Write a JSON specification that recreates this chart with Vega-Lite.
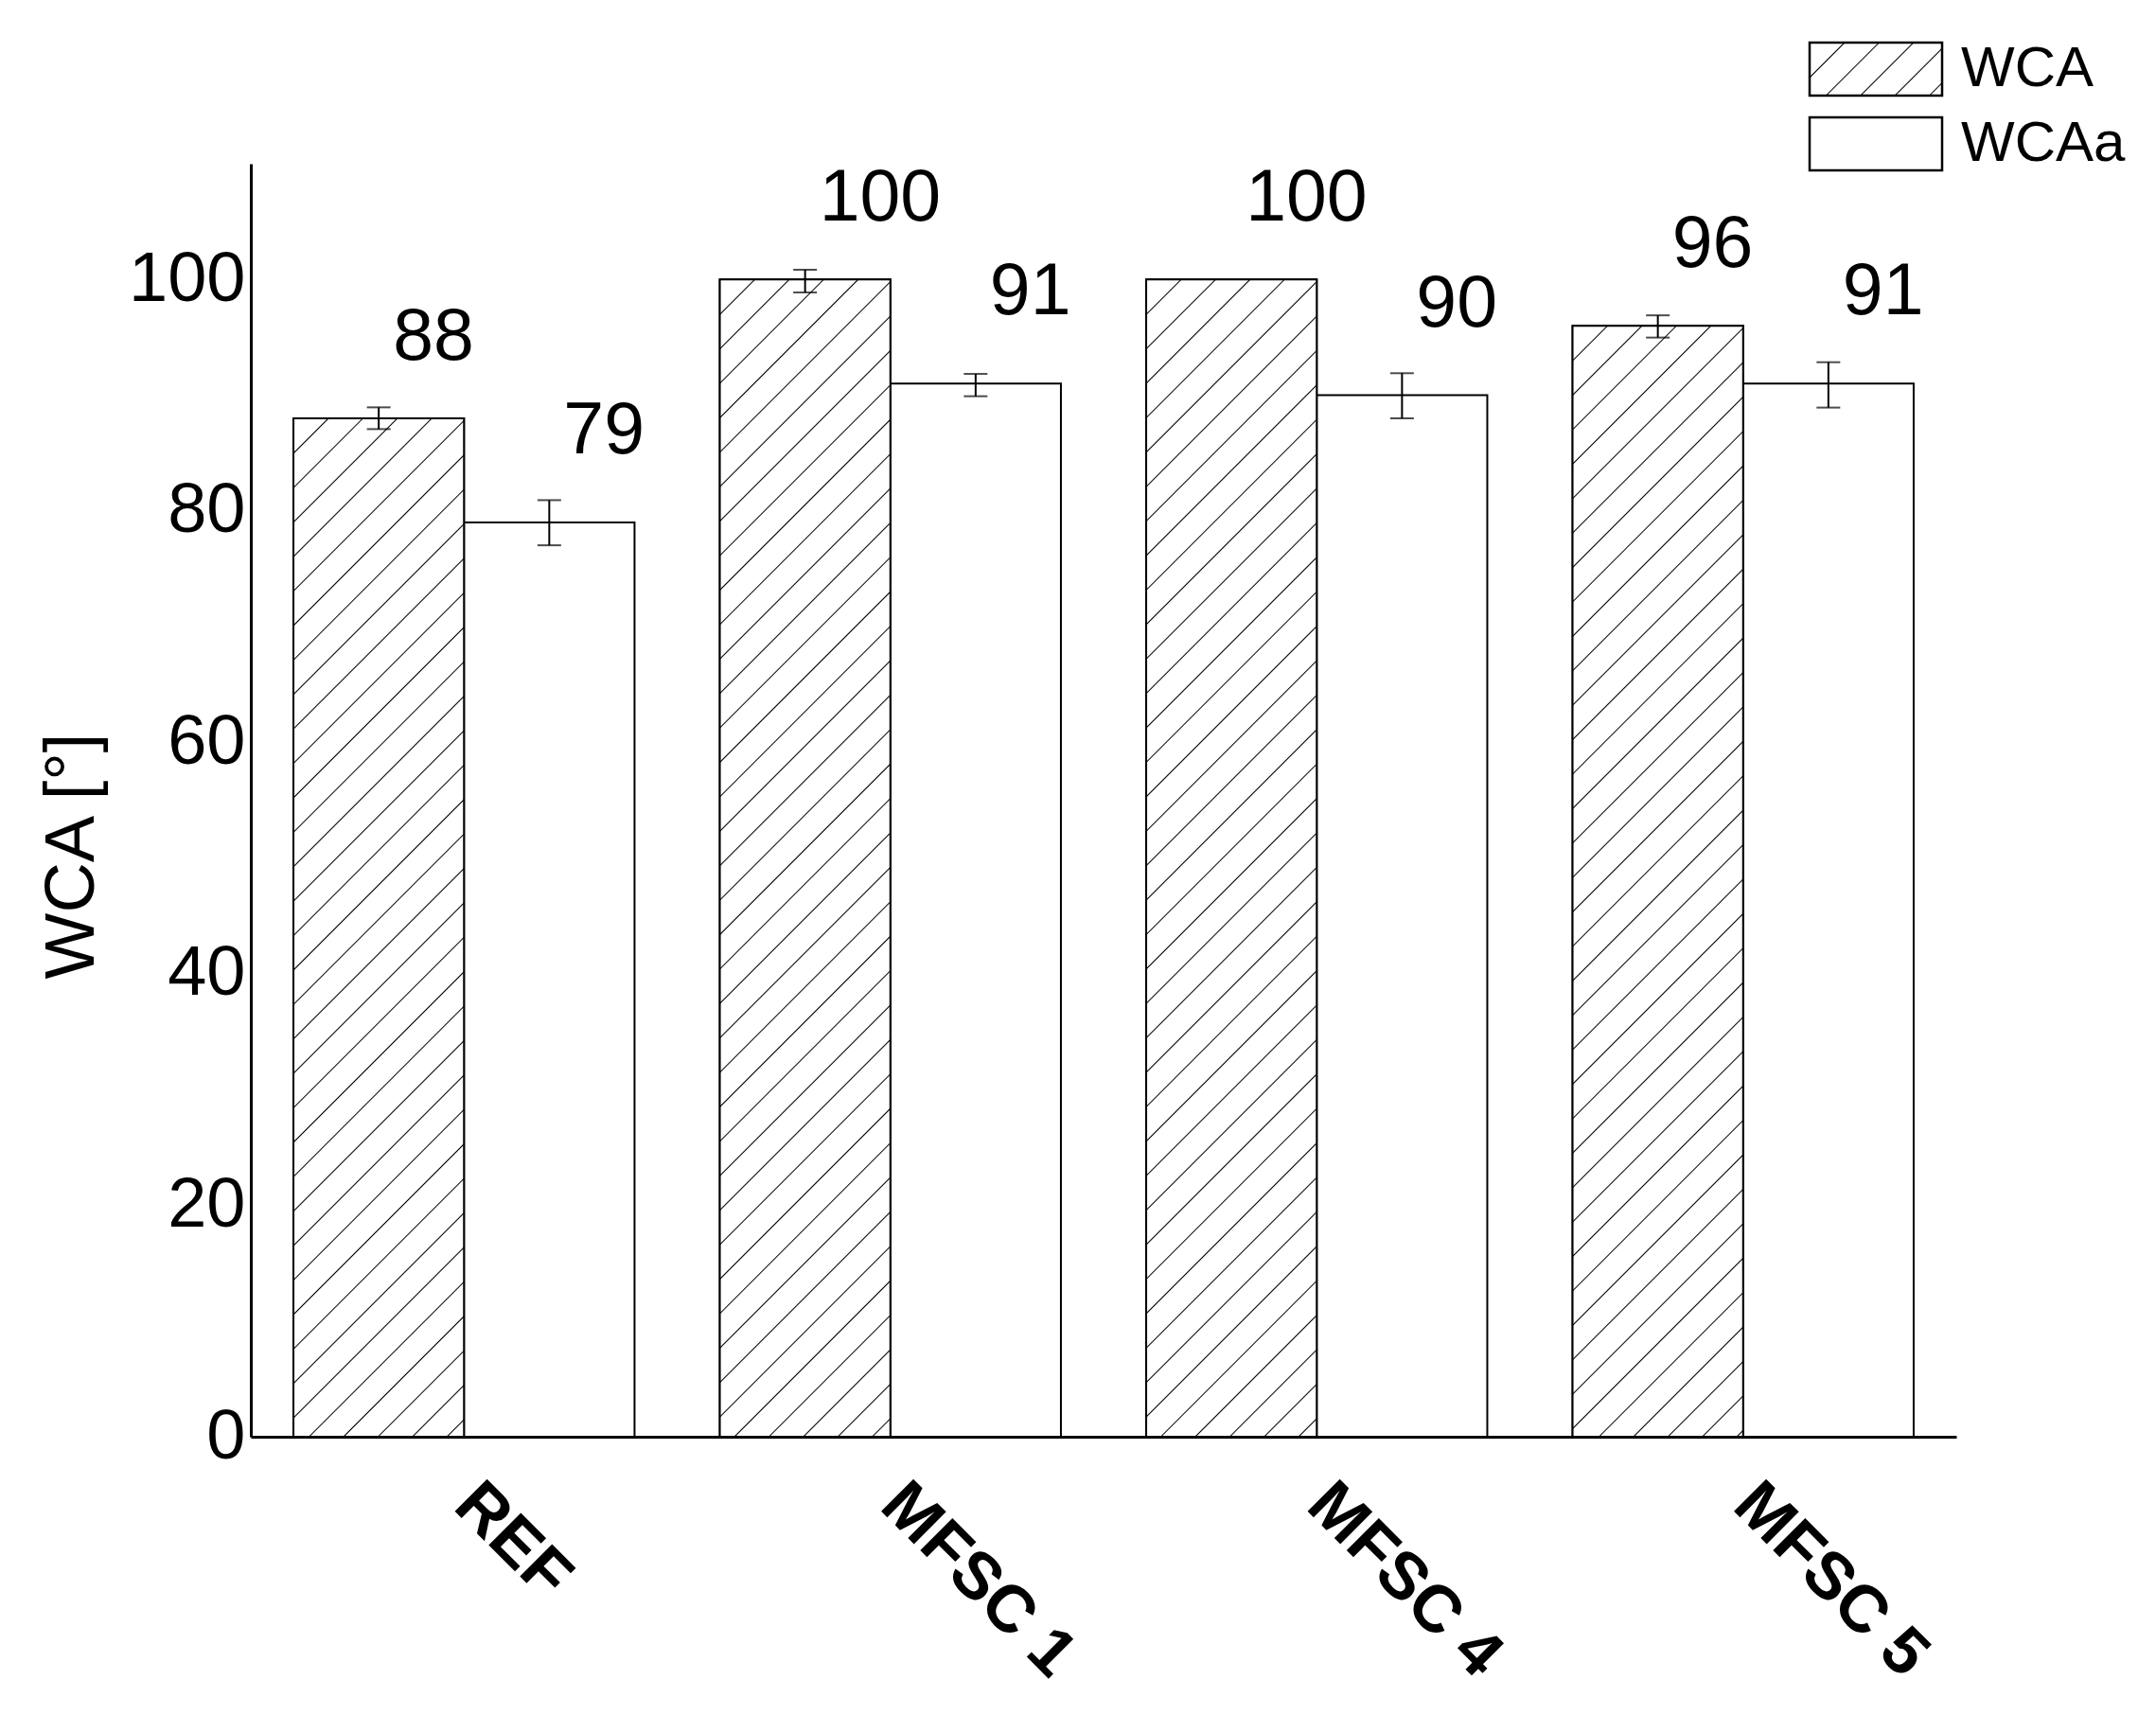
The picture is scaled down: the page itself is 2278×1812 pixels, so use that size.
{
 "$schema": "https://vega.github.io/schema/vega-lite/v6.json",
 "width": 1802, "height": 1345,
 "autosize": {"type": "none"},
 "padding": {"left": 265, "top": 173, "right": 211, "bottom": 294},
 "background": "white",
 "config": {"view": {"stroke": null}},
 "params": [
  {"name": "legendHatch", "value": {"gradient": "linear", "x1": 0, "y1": 0, "x2": 8.9655, "y2": 3.5862, "stops": [
   {"offset": 0, "color": "#fff"},
   {"offset": 0.0244, "color": "#fff"}, {"offset": 0.0254, "color": "#000"}, {"offset": 0.0264, "color": "#fff"},
   {"offset": 0.0494, "color": "#fff"}, {"offset": 0.0504, "color": "#000"}, {"offset": 0.0514, "color": "#fff"},
   {"offset": 0.0744, "color": "#fff"}, {"offset": 0.0754, "color": "#000"}, {"offset": 0.0764, "color": "#fff"},
   {"offset": 0.0994, "color": "#fff"}, {"offset": 0.1004, "color": "#000"}, {"offset": 0.1014, "color": "#fff"},
   {"offset": 0.1244, "color": "#fff"}, {"offset": 0.1254, "color": "#000"}, {"offset": 0.1264, "color": "#fff"},
   {"offset": 0.1494, "color": "#fff"}, {"offset": 0.1504, "color": "#000"}, {"offset": 0.1514, "color": "#fff"},
   {"offset": 1, "color": "#fff"}]}}
 ],
 "data": {"values": [
  {"sample": "REF", "series": "WCA", "value": 88, "lo": 87.07, "hi": 88.95},
  {"sample": "REF", "series": "WCAa", "value": 79, "lo": 77.03, "hi": 80.93},
  {"sample": "MFSC 1", "series": "WCA", "value": 100, "lo": 98.88, "hi": 100.84},
  {"sample": "MFSC 1", "series": "WCAa", "value": 91, "lo": 89.91, "hi": 91.84},
  {"sample": "MFSC 4", "series": "WCA", "value": 100, "lo": null, "hi": null},
  {"sample": "MFSC 4", "series": "WCAa", "value": 90, "lo": 88.0, "hi": 91.9},
  {"sample": "MFSC 5", "series": "WCA", "value": 96, "lo": 94.98, "hi": 96.9},
  {"sample": "MFSC 5", "series": "WCAa", "value": 91, "lo": 88.93, "hi": 92.85}
 ]},
 "encoding": {
  "x": {"field": "sample", "type": "nominal", "sort": null,
   "scale": {"paddingInner": 0.2, "paddingOuter": 0.1},
   "axis": {"title": null, "labelAngle": 45, "labelAlign": "left", "labelBaseline": "alphabetic",
    "labelPadding": 75, "labelOffset": -13, "labelFontSize": 70, "labelFontWeight": "bold",
    "labelFont": "Liberation Sans", "labelColor": "black", "ticks": false, "tickSize": 0,
    "domainColor": "black", "domainWidth": 3, "grid": false, "labelOverlap": false, "labelBound": false, "labelLimit": 1000}},
  "xOffset": {"field": "series", "type": "nominal", "scale": {"paddingInner": 0, "paddingOuter": 0}},
  "y": {"field": "value", "type": "quantitative", "scale": {"domain": [0, 110], "nice": false},
   "axis": {"title": "WCA [°]", "values": [0, 20, 40, 60, 80, 100], "ticks": false, "tickSize": 0,
    "labelPadding": 6, "labelFontSize": 74, "labelFont": "Liberation Sans", "labelColor": "black",
    "domainColor": "black", "domainWidth": 3, "grid": false, "labelOverlap": false,
    "titleFontSize": 74, "titleFont": "Liberation Sans", "titleFontWeight": "normal", "titleColor": "black",
    "titleAngle": -90, "titleX": -167, "titleY": 731, "titleAlign": "center", "titleBaseline": "alphabetic"}}
 },
 "layer": [
  {"mark": {"type": "bar", "fill": "white", "strokeWidth": 2},
   "encoding": {"stroke": {"field": "series", "type": "nominal", "scale": {"range": ["black", "black"]},
    "legend": {"title": null, "orient": "none", "legendX": 1645, "legendY": -130, "padding": 0,
     "symbolType": "M-1,-1H4V1H-1Z", "symbolSize": 3136, "symbolStrokeWidth": 2.5, "symbolOpacity": 1,
     "labelFontSize": 60, "labelFont": "Liberation Sans", "labelColor": "black", "labelOffset": 102,
     "labelLimit": 500, "rowPadding": 13, "labelBaseline": "middle",
     "encoding": {"symbols": {
      "strokeWidth": {"value": 2.5}, "opacity": {"value": 1},
      "fill": {"value": {"expr": "datum.value === 'WCA' ? legendHatch : 'white'"}}}}}}}},
  {"transform": [{"filter": "datum.series === 'WCA'"}],
   "mark": {"type": "bar", "stroke": "black", "strokeWidth": 2},
   "encoding": {"fill": {"condition": [
    {"test": "datum.value === 88", "value": {"gradient": "linear", "x1": 0, "y1": 0, "x2": 0.2204, "y2": 1.3162, "stops": [
     {"offset": 0, "color": "#fff"},
     {"offset": 0.0244, "color": "#fff"}, {"offset": 0.0254, "color": "#000"}, {"offset": 0.0264, "color": "#fff"},
     {"offset": 0.0494, "color": "#fff"}, {"offset": 0.0504, "color": "#000"}, {"offset": 0.0514, "color": "#fff"},
     {"offset": 0.0744, "color": "#fff"}, {"offset": 0.0754, "color": "#000"}, {"offset": 0.0764, "color": "#fff"},
     {"offset": 0.0994, "color": "#fff"}, {"offset": 0.1004, "color": "#000"}, {"offset": 0.1014, "color": "#fff"},
     {"offset": 0.1244, "color": "#fff"}, {"offset": 0.1254, "color": "#000"}, {"offset": 0.1264, "color": "#fff"},
     {"offset": 0.1494, "color": "#fff"}, {"offset": 0.1504, "color": "#000"}, {"offset": 0.1514, "color": "#fff"},
     {"offset": 0.1744, "color": "#fff"}, {"offset": 0.1754, "color": "#000"}, {"offset": 0.1764, "color": "#fff"},
     {"offset": 0.1994, "color": "#fff"}, {"offset": 0.2004, "color": "#000"}, {"offset": 0.2014, "color": "#fff"},
     {"offset": 0.2244, "color": "#fff"}, {"offset": 0.2254, "color": "#000"}, {"offset": 0.2264, "color": "#fff"},
     {"offset": 0.2494, "color": "#fff"}, {"offset": 0.2504, "color": "#000"}, {"offset": 0.2514, "color": "#fff"},
     {"offset": 0.2744, "color": "#fff"}, {"offset": 0.2754, "color": "#000"}, {"offset": 0.2764, "color": "#fff"},
     {"offset": 0.2994, "color": "#fff"}, {"offset": 0.3004, "color": "#000"}, {"offset": 0.3014, "color": "#fff"},
     {"offset": 0.3244, "color": "#fff"}, {"offset": 0.3254, "color": "#000"}, {"offset": 0.3264, "color": "#fff"},
     {"offset": 0.3494, "color": "#fff"}, {"offset": 0.3504, "color": "#000"}, {"offset": 0.3514, "color": "#fff"},
     {"offset": 0.3744, "color": "#fff"}, {"offset": 0.3754, "color": "#000"}, {"offset": 0.3764, "color": "#fff"},
     {"offset": 0.3994, "color": "#fff"}, {"offset": 0.4004, "color": "#000"}, {"offset": 0.4014, "color": "#fff"},
     {"offset": 0.4244, "color": "#fff"}, {"offset": 0.4254, "color": "#000"}, {"offset": 0.4264, "color": "#fff"},
     {"offset": 0.4494, "color": "#fff"}, {"offset": 0.4504, "color": "#000"}, {"offset": 0.4514, "color": "#fff"},
     {"offset": 0.4744, "color": "#fff"}, {"offset": 0.4754, "color": "#000"}, {"offset": 0.4764, "color": "#fff"},
     {"offset": 0.4994, "color": "#fff"}, {"offset": 0.5004, "color": "#000"}, {"offset": 0.5014, "color": "#fff"},
     {"offset": 0.5244, "color": "#fff"}, {"offset": 0.5254, "color": "#000"}, {"offset": 0.5264, "color": "#fff"},
     {"offset": 0.5494, "color": "#fff"}, {"offset": 0.5504, "color": "#000"}, {"offset": 0.5514, "color": "#fff"},
     {"offset": 0.5744, "color": "#fff"}, {"offset": 0.5754, "color": "#000"}, {"offset": 0.5764, "color": "#fff"},
     {"offset": 0.5994, "color": "#fff"}, {"offset": 0.6004, "color": "#000"}, {"offset": 0.6014, "color": "#fff"},
     {"offset": 0.6244, "color": "#fff"}, {"offset": 0.6254, "color": "#000"}, {"offset": 0.6264, "color": "#fff"},
     {"offset": 0.6494, "color": "#fff"}, {"offset": 0.6504, "color": "#000"}, {"offset": 0.6514, "color": "#fff"},
     {"offset": 0.6744, "color": "#fff"}, {"offset": 0.6754, "color": "#000"}, {"offset": 0.6764, "color": "#fff"},
     {"offset": 0.6994, "color": "#fff"}, {"offset": 0.7004, "color": "#000"}, {"offset": 0.7014, "color": "#fff"},
     {"offset": 0.7244, "color": "#fff"}, {"offset": 0.7254, "color": "#000"}, {"offset": 0.7264, "color": "#fff"},
     {"offset": 0.7494, "color": "#fff"}, {"offset": 0.7504, "color": "#000"}, {"offset": 0.7514, "color": "#fff"},
     {"offset": 0.7744, "color": "#fff"}, {"offset": 0.7754, "color": "#000"}, {"offset": 0.7764, "color": "#fff"},
     {"offset": 0.7994, "color": "#fff"}, {"offset": 0.8004, "color": "#000"}, {"offset": 0.8014, "color": "#fff"},
     {"offset": 0.8244, "color": "#fff"}, {"offset": 0.8254, "color": "#000"}, {"offset": 0.8264, "color": "#fff"},
     {"offset": 0.8494, "color": "#fff"}, {"offset": 0.8504, "color": "#000"}, {"offset": 0.8514, "color": "#fff"},
     {"offset": 0.8744, "color": "#fff"}, {"offset": 0.8754, "color": "#000"}, {"offset": 0.8764, "color": "#fff"},
     {"offset": 0.8994, "color": "#fff"}, {"offset": 0.9004, "color": "#000"}, {"offset": 0.9014, "color": "#fff"},
     {"offset": 0.9244, "color": "#fff"}, {"offset": 0.9254, "color": "#000"}, {"offset": 0.9264, "color": "#fff"},
     {"offset": 0.9494, "color": "#fff"}, {"offset": 0.9504, "color": "#000"}, {"offset": 0.9514, "color": "#fff"},
     {"offset": 0.9744, "color": "#fff"}, {"offset": 0.9754, "color": "#000"}, {"offset": 0.9764, "color": "#fff"},
     {"offset": 1, "color": "#fff"}]}},
    {"test": "datum.value === 96", "value": {"gradient": "linear", "x1": 0, "y1": 0, "x2": 0.1860, "y2": 1.2118, "stops": [
     {"offset": 0, "color": "#fff"},
     {"offset": 0.0244, "color": "#fff"}, {"offset": 0.0254, "color": "#000"}, {"offset": 0.0264, "color": "#fff"},
     {"offset": 0.0494, "color": "#fff"}, {"offset": 0.0504, "color": "#000"}, {"offset": 0.0514, "color": "#fff"},
     {"offset": 0.0744, "color": "#fff"}, {"offset": 0.0754, "color": "#000"}, {"offset": 0.0764, "color": "#fff"},
     {"offset": 0.0994, "color": "#fff"}, {"offset": 0.1004, "color": "#000"}, {"offset": 0.1014, "color": "#fff"},
     {"offset": 0.1244, "color": "#fff"}, {"offset": 0.1254, "color": "#000"}, {"offset": 0.1264, "color": "#fff"},
     {"offset": 0.1494, "color": "#fff"}, {"offset": 0.1504, "color": "#000"}, {"offset": 0.1514, "color": "#fff"},
     {"offset": 0.1744, "color": "#fff"}, {"offset": 0.1754, "color": "#000"}, {"offset": 0.1764, "color": "#fff"},
     {"offset": 0.1994, "color": "#fff"}, {"offset": 0.2004, "color": "#000"}, {"offset": 0.2014, "color": "#fff"},
     {"offset": 0.2244, "color": "#fff"}, {"offset": 0.2254, "color": "#000"}, {"offset": 0.2264, "color": "#fff"},
     {"offset": 0.2494, "color": "#fff"}, {"offset": 0.2504, "color": "#000"}, {"offset": 0.2514, "color": "#fff"},
     {"offset": 0.2744, "color": "#fff"}, {"offset": 0.2754, "color": "#000"}, {"offset": 0.2764, "color": "#fff"},
     {"offset": 0.2994, "color": "#fff"}, {"offset": 0.3004, "color": "#000"}, {"offset": 0.3014, "color": "#fff"},
     {"offset": 0.3244, "color": "#fff"}, {"offset": 0.3254, "color": "#000"}, {"offset": 0.3264, "color": "#fff"},
     {"offset": 0.3494, "color": "#fff"}, {"offset": 0.3504, "color": "#000"}, {"offset": 0.3514, "color": "#fff"},
     {"offset": 0.3744, "color": "#fff"}, {"offset": 0.3754, "color": "#000"}, {"offset": 0.3764, "color": "#fff"},
     {"offset": 0.3994, "color": "#fff"}, {"offset": 0.4004, "color": "#000"}, {"offset": 0.4014, "color": "#fff"},
     {"offset": 0.4244, "color": "#fff"}, {"offset": 0.4254, "color": "#000"}, {"offset": 0.4264, "color": "#fff"},
     {"offset": 0.4494, "color": "#fff"}, {"offset": 0.4504, "color": "#000"}, {"offset": 0.4514, "color": "#fff"},
     {"offset": 0.4744, "color": "#fff"}, {"offset": 0.4754, "color": "#000"}, {"offset": 0.4764, "color": "#fff"},
     {"offset": 0.4994, "color": "#fff"}, {"offset": 0.5004, "color": "#000"}, {"offset": 0.5014, "color": "#fff"},
     {"offset": 0.5244, "color": "#fff"}, {"offset": 0.5254, "color": "#000"}, {"offset": 0.5264, "color": "#fff"},
     {"offset": 0.5494, "color": "#fff"}, {"offset": 0.5504, "color": "#000"}, {"offset": 0.5514, "color": "#fff"},
     {"offset": 0.5744, "color": "#fff"}, {"offset": 0.5754, "color": "#000"}, {"offset": 0.5764, "color": "#fff"},
     {"offset": 0.5994, "color": "#fff"}, {"offset": 0.6004, "color": "#000"}, {"offset": 0.6014, "color": "#fff"},
     {"offset": 0.6244, "color": "#fff"}, {"offset": 0.6254, "color": "#000"}, {"offset": 0.6264, "color": "#fff"},
     {"offset": 0.6494, "color": "#fff"}, {"offset": 0.6504, "color": "#000"}, {"offset": 0.6514, "color": "#fff"},
     {"offset": 0.6744, "color": "#fff"}, {"offset": 0.6754, "color": "#000"}, {"offset": 0.6764, "color": "#fff"},
     {"offset": 0.6994, "color": "#fff"}, {"offset": 0.7004, "color": "#000"}, {"offset": 0.7014, "color": "#fff"},
     {"offset": 0.7244, "color": "#fff"}, {"offset": 0.7254, "color": "#000"}, {"offset": 0.7264, "color": "#fff"},
     {"offset": 0.7494, "color": "#fff"}, {"offset": 0.7504, "color": "#000"}, {"offset": 0.7514, "color": "#fff"},
     {"offset": 0.7744, "color": "#fff"}, {"offset": 0.7754, "color": "#000"}, {"offset": 0.7764, "color": "#fff"},
     {"offset": 0.7994, "color": "#fff"}, {"offset": 0.8004, "color": "#000"}, {"offset": 0.8014, "color": "#fff"},
     {"offset": 0.8244, "color": "#fff"}, {"offset": 0.8254, "color": "#000"}, {"offset": 0.8264, "color": "#fff"},
     {"offset": 0.8494, "color": "#fff"}, {"offset": 0.8504, "color": "#000"}, {"offset": 0.8514, "color": "#fff"},
     {"offset": 0.8744, "color": "#fff"}, {"offset": 0.8754, "color": "#000"}, {"offset": 0.8764, "color": "#fff"},
     {"offset": 0.8994, "color": "#fff"}, {"offset": 0.9004, "color": "#000"}, {"offset": 0.9014, "color": "#fff"},
     {"offset": 0.9244, "color": "#fff"}, {"offset": 0.9254, "color": "#000"}, {"offset": 0.9264, "color": "#fff"},
     {"offset": 0.9494, "color": "#fff"}, {"offset": 0.9504, "color": "#000"}, {"offset": 0.9514, "color": "#fff"},
     {"offset": 0.9744, "color": "#fff"}, {"offset": 0.9754, "color": "#000"}, {"offset": 0.9764, "color": "#fff"},
     {"offset": 1, "color": "#fff"}]}}],
    "value": {"gradient": "linear", "x1": 0, "y1": 0, "x2": 0.1718, "y2": 1.1655, "stops": [
     {"offset": 0, "color": "#fff"},
     {"offset": 0.0244, "color": "#fff"}, {"offset": 0.0254, "color": "#000"}, {"offset": 0.0264, "color": "#fff"},
     {"offset": 0.0494, "color": "#fff"}, {"offset": 0.0504, "color": "#000"}, {"offset": 0.0514, "color": "#fff"},
     {"offset": 0.0744, "color": "#fff"}, {"offset": 0.0754, "color": "#000"}, {"offset": 0.0764, "color": "#fff"},
     {"offset": 0.0994, "color": "#fff"}, {"offset": 0.1004, "color": "#000"}, {"offset": 0.1014, "color": "#fff"},
     {"offset": 0.1244, "color": "#fff"}, {"offset": 0.1254, "color": "#000"}, {"offset": 0.1264, "color": "#fff"},
     {"offset": 0.1494, "color": "#fff"}, {"offset": 0.1504, "color": "#000"}, {"offset": 0.1514, "color": "#fff"},
     {"offset": 0.1744, "color": "#fff"}, {"offset": 0.1754, "color": "#000"}, {"offset": 0.1764, "color": "#fff"},
     {"offset": 0.1994, "color": "#fff"}, {"offset": 0.2004, "color": "#000"}, {"offset": 0.2014, "color": "#fff"},
     {"offset": 0.2244, "color": "#fff"}, {"offset": 0.2254, "color": "#000"}, {"offset": 0.2264, "color": "#fff"},
     {"offset": 0.2494, "color": "#fff"}, {"offset": 0.2504, "color": "#000"}, {"offset": 0.2514, "color": "#fff"},
     {"offset": 0.2744, "color": "#fff"}, {"offset": 0.2754, "color": "#000"}, {"offset": 0.2764, "color": "#fff"},
     {"offset": 0.2994, "color": "#fff"}, {"offset": 0.3004, "color": "#000"}, {"offset": 0.3014, "color": "#fff"},
     {"offset": 0.3244, "color": "#fff"}, {"offset": 0.3254, "color": "#000"}, {"offset": 0.3264, "color": "#fff"},
     {"offset": 0.3494, "color": "#fff"}, {"offset": 0.3504, "color": "#000"}, {"offset": 0.3514, "color": "#fff"},
     {"offset": 0.3744, "color": "#fff"}, {"offset": 0.3754, "color": "#000"}, {"offset": 0.3764, "color": "#fff"},
     {"offset": 0.3994, "color": "#fff"}, {"offset": 0.4004, "color": "#000"}, {"offset": 0.4014, "color": "#fff"},
     {"offset": 0.4244, "color": "#fff"}, {"offset": 0.4254, "color": "#000"}, {"offset": 0.4264, "color": "#fff"},
     {"offset": 0.4494, "color": "#fff"}, {"offset": 0.4504, "color": "#000"}, {"offset": 0.4514, "color": "#fff"},
     {"offset": 0.4744, "color": "#fff"}, {"offset": 0.4754, "color": "#000"}, {"offset": 0.4764, "color": "#fff"},
     {"offset": 0.4994, "color": "#fff"}, {"offset": 0.5004, "color": "#000"}, {"offset": 0.5014, "color": "#fff"},
     {"offset": 0.5244, "color": "#fff"}, {"offset": 0.5254, "color": "#000"}, {"offset": 0.5264, "color": "#fff"},
     {"offset": 0.5494, "color": "#fff"}, {"offset": 0.5504, "color": "#000"}, {"offset": 0.5514, "color": "#fff"},
     {"offset": 0.5744, "color": "#fff"}, {"offset": 0.5754, "color": "#000"}, {"offset": 0.5764, "color": "#fff"},
     {"offset": 0.5994, "color": "#fff"}, {"offset": 0.6004, "color": "#000"}, {"offset": 0.6014, "color": "#fff"},
     {"offset": 0.6244, "color": "#fff"}, {"offset": 0.6254, "color": "#000"}, {"offset": 0.6264, "color": "#fff"},
     {"offset": 0.6494, "color": "#fff"}, {"offset": 0.6504, "color": "#000"}, {"offset": 0.6514, "color": "#fff"},
     {"offset": 0.6744, "color": "#fff"}, {"offset": 0.6754, "color": "#000"}, {"offset": 0.6764, "color": "#fff"},
     {"offset": 0.6994, "color": "#fff"}, {"offset": 0.7004, "color": "#000"}, {"offset": 0.7014, "color": "#fff"},
     {"offset": 0.7244, "color": "#fff"}, {"offset": 0.7254, "color": "#000"}, {"offset": 0.7264, "color": "#fff"},
     {"offset": 0.7494, "color": "#fff"}, {"offset": 0.7504, "color": "#000"}, {"offset": 0.7514, "color": "#fff"},
     {"offset": 0.7744, "color": "#fff"}, {"offset": 0.7754, "color": "#000"}, {"offset": 0.7764, "color": "#fff"},
     {"offset": 0.7994, "color": "#fff"}, {"offset": 0.8004, "color": "#000"}, {"offset": 0.8014, "color": "#fff"},
     {"offset": 0.8244, "color": "#fff"}, {"offset": 0.8254, "color": "#000"}, {"offset": 0.8264, "color": "#fff"},
     {"offset": 0.8494, "color": "#fff"}, {"offset": 0.8504, "color": "#000"}, {"offset": 0.8514, "color": "#fff"},
     {"offset": 0.8744, "color": "#fff"}, {"offset": 0.8754, "color": "#000"}, {"offset": 0.8764, "color": "#fff"},
     {"offset": 0.8994, "color": "#fff"}, {"offset": 0.9004, "color": "#000"}, {"offset": 0.9014, "color": "#fff"},
     {"offset": 0.9244, "color": "#fff"}, {"offset": 0.9254, "color": "#000"}, {"offset": 0.9264, "color": "#fff"},
     {"offset": 0.9494, "color": "#fff"}, {"offset": 0.9504, "color": "#000"}, {"offset": 0.9514, "color": "#fff"},
     {"offset": 0.9744, "color": "#fff"}, {"offset": 0.9754, "color": "#000"}, {"offset": 0.9764, "color": "#fff"},
     {"offset": 1, "color": "#fff"}]}}}},
  {"mark": {"type": "rule", "color": "black", "strokeWidth": 2},
   "encoding": {"y": {"field": "lo", "type": "quantitative"}, "y2": {"field": "hi"}}},
  {"mark": {"type": "tick", "color": "black", "size": 25, "thickness": 2},
   "encoding": {"y": {"field": "lo", "type": "quantitative"}}},
  {"mark": {"type": "tick", "color": "black", "size": 25, "thickness": 2},
   "encoding": {"y": {"field": "hi", "type": "quantitative"}}},
  {"transform": [{"filter": "datum.series === 'WCA'"}],
   "mark": {"type": "text", "align": "left", "baseline": "alphabetic", "dx": 15, "dy": -62, "fontSize": 77, "font": "Liberation Sans", "color": "black"},
   "encoding": {"text": {"field": "value", "type": "quantitative"}}},
  {"transform": [{"filter": "datum.series === 'WCAa'"}],
   "mark": {"type": "text", "align": "left", "baseline": "alphabetic", "dx": 15, "dy": -73, "fontSize": 77, "font": "Liberation Sans", "color": "black"},
   "encoding": {"text": {"field": "value", "type": "quantitative"}}}
 ]
}
